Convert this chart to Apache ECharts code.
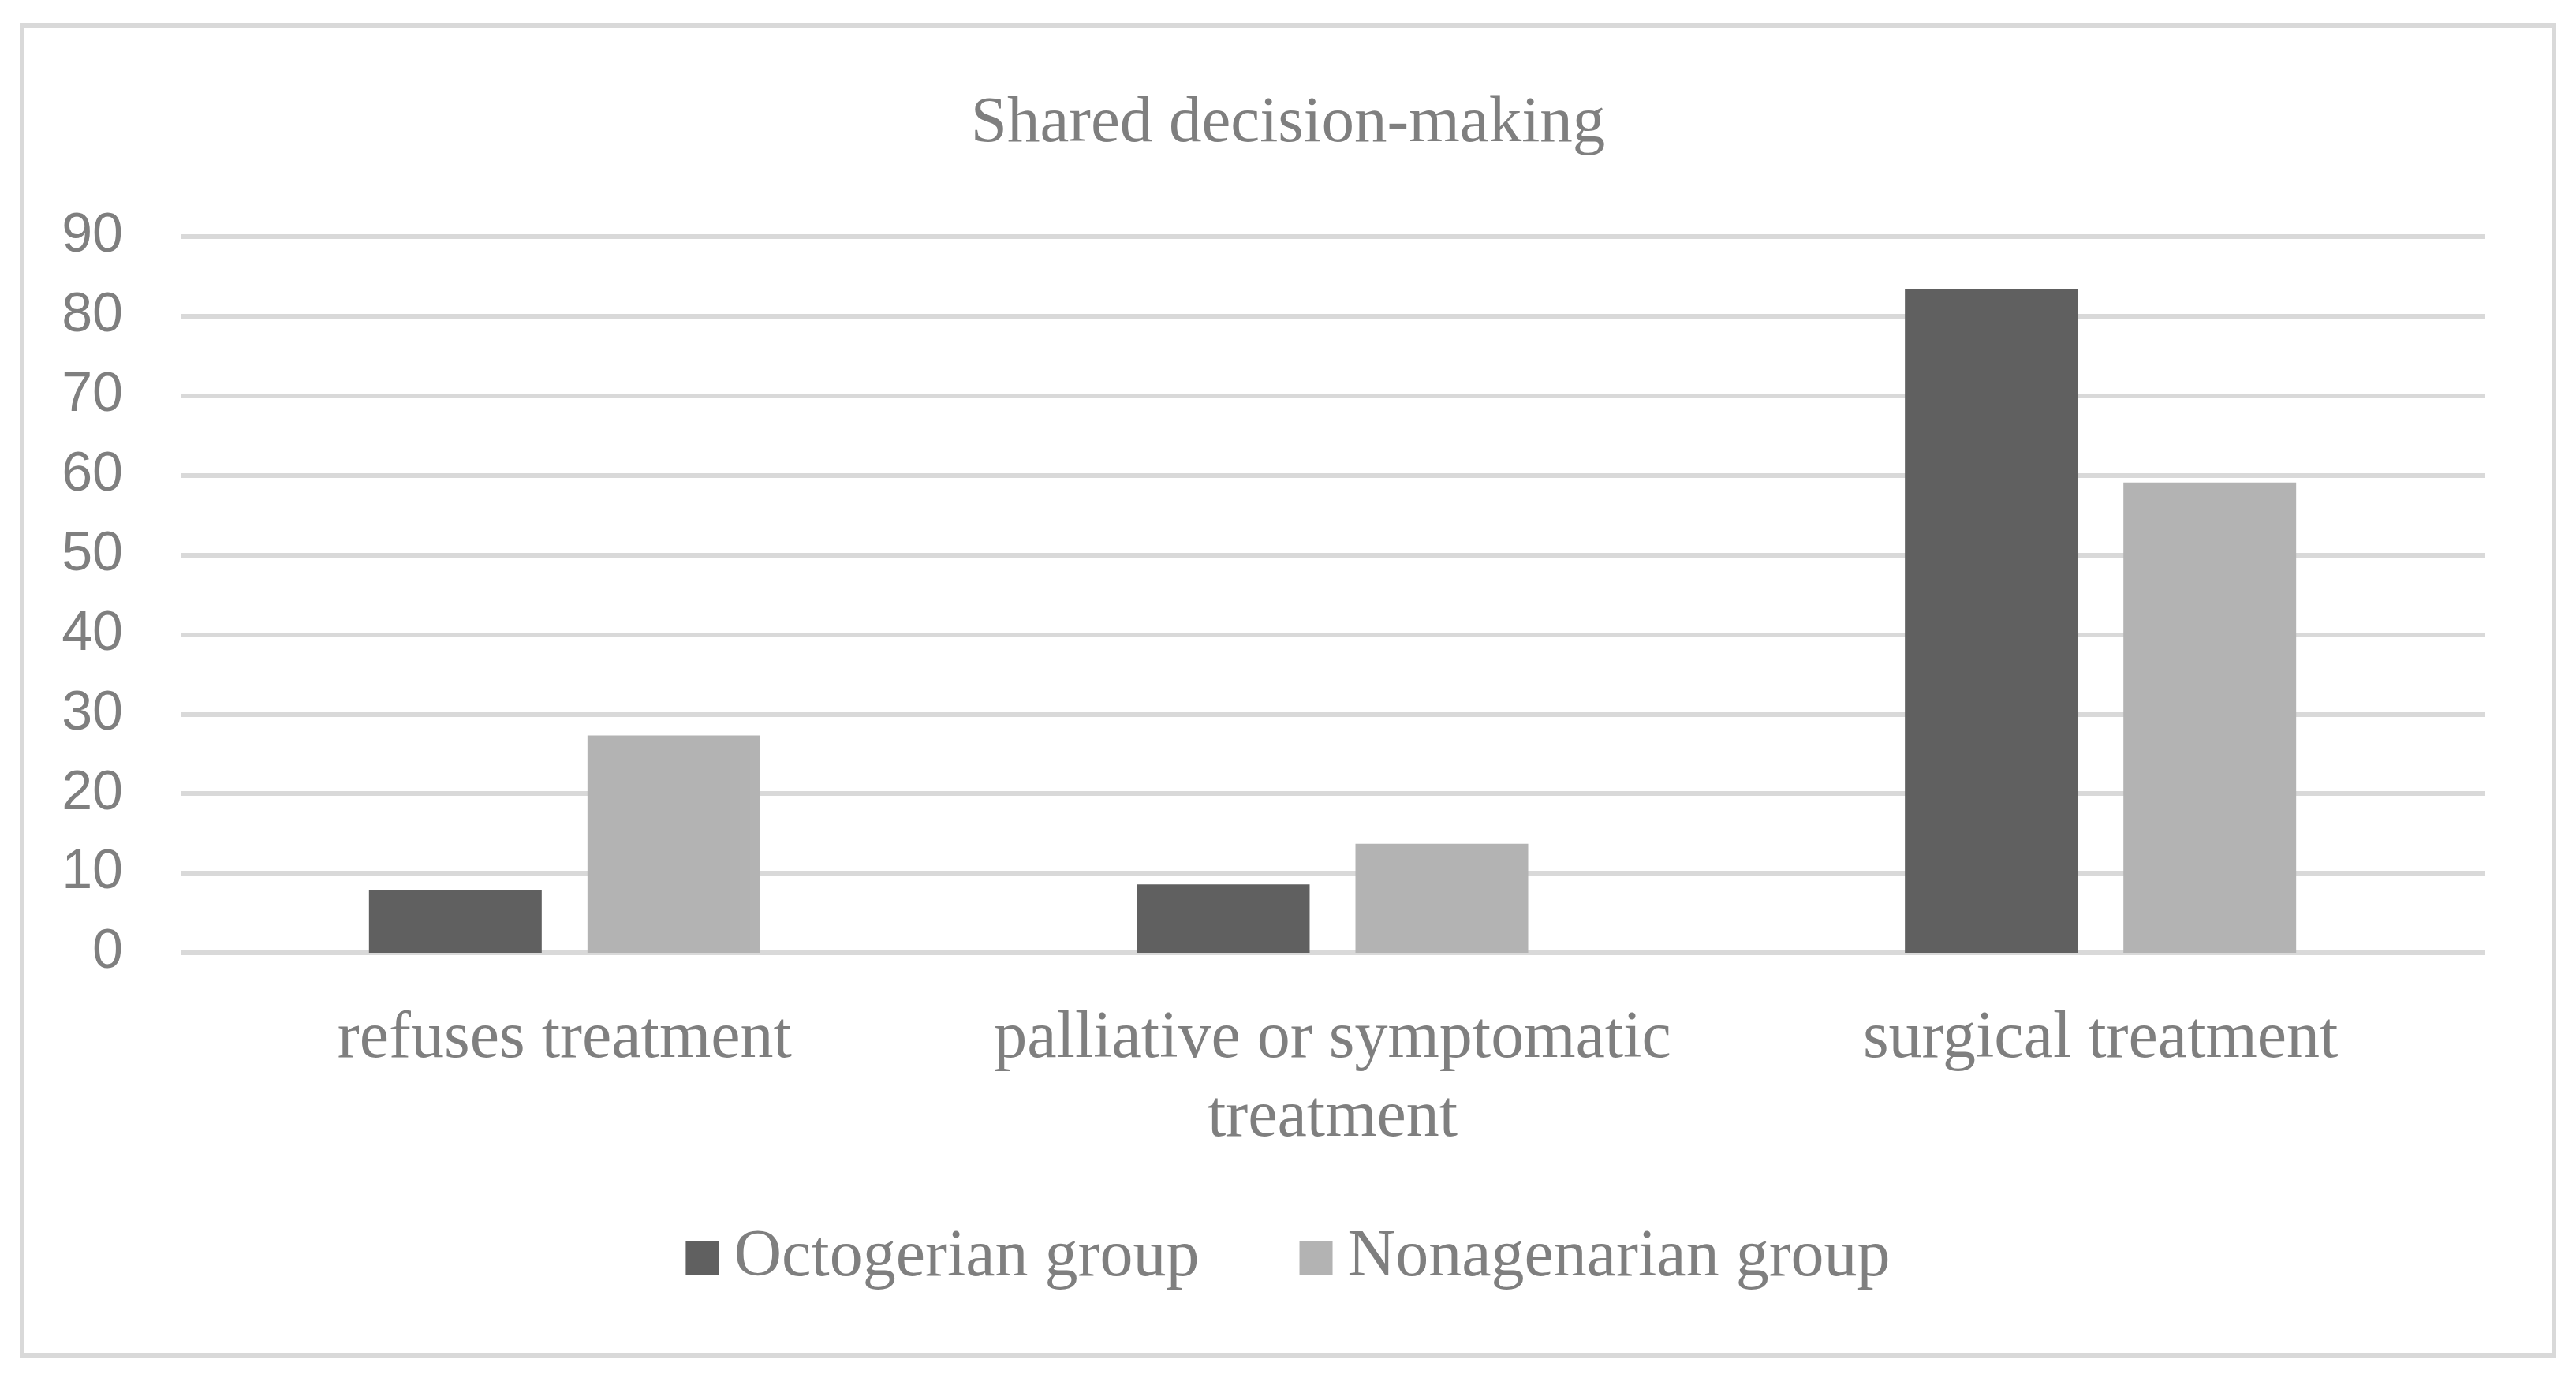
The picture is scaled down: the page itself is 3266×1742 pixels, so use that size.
<!DOCTYPE html>
<html>
<head>
<meta charset="utf-8">
<script src="https://cdn.jsdelivr.net/npm/echarts@6/dist/echarts.min.js"></script>
<style>
html,body{margin:0;padding:0;background:#fff;}
#chart{width:3266px;height:1742px;}
</style>
</head>
<body>
<div id="chart"></div>
<script>
const titleText = 'Shared decision-making';
const categories = ['refuses treatment', 'palliative or symptomatic treatment', 'surgical treatment'];
const seriesNames = ['Octogerian group', 'Nonagenarian group'];
const octogerian = [7.9, 8.6, 83.4];
const nonagenarian = [27.3, 13.7, 59.1];
const yTicks = [0, 10, 20, 30, 40, 50, 60, 70, 80, 90];

const serif = '"Liberation Serif", "Times New Roman", serif';
const sans = '"Liberation Sans", Arial, sans-serif';
const textGray = '#7f7f7f';

const chart = echarts.init(document.getElementById('chart'), null, {renderer: 'canvas'});
chart.setOption({
  backgroundColor: '#ffffff',
  animation: false,
  graphic: [{
    type: 'rect',
    shape: {x: 28, y: 32, width: 3210, height: 1687},
    style: {fill: 'none', stroke: '#d9d9d9', lineWidth: 6},
    silent: true,
    z: -1
  }],
  title: {
    text: titleText,
    left: 'center',
    top: 108,
    textStyle: {fontFamily: serif, fontSize: 83, fontWeight: 'normal', color: textGray, lineHeight: 88}
  },
  legend: {
    data: seriesNames,
    left: 'center',
    top: 1546,
    itemWidth: 42,
    itemHeight: 42,
    itemGap: 127,
    icon: 'rect',
    textStyle: {fontFamily: serif, fontSize: 84, color: textGray, padding: [0, 0, 0, 14], lineHeight: 88}
  },
  grid: {left: 229, right: 116, top: 300, bottom: 534, containLabel: false},
  xAxis: {
    type: 'category',
    data: categories,
    axisLine: {show: false},
    axisTick: {show: false},
    axisLabel: {
      fontFamily: serif, fontSize: 84, color: textGray, lineHeight: 100, margin: 60,
      interval: 0,
      formatter: function (v) { return v === 'palliative or symptomatic treatment' ? 'palliative or symptomatic\ntreatment' : v; }
    }
  },
  yAxis: {
    type: 'value',
    min: yTicks[0],
    max: yTicks[yTicks.length - 1],
    interval: 10,
    axisLine: {show: false},
    axisTick: {show: false},
    splitLine: {lineStyle: {color: '#d9d9d9', width: 6}},
    axisLabel: {fontFamily: sans, fontSize: 70, color: textGray, margin: 73}
  },
  series: [
    {name: seriesNames[0], type: 'bar', data: octogerian, barWidth: 219, barGap: '26.5%', itemStyle: {color: '#606060'}},
    {name: seriesNames[1], type: 'bar', data: nonagenarian, barWidth: 219, itemStyle: {color: '#b3b3b3'}}
  ]
});
</script>
</body>
</html>
